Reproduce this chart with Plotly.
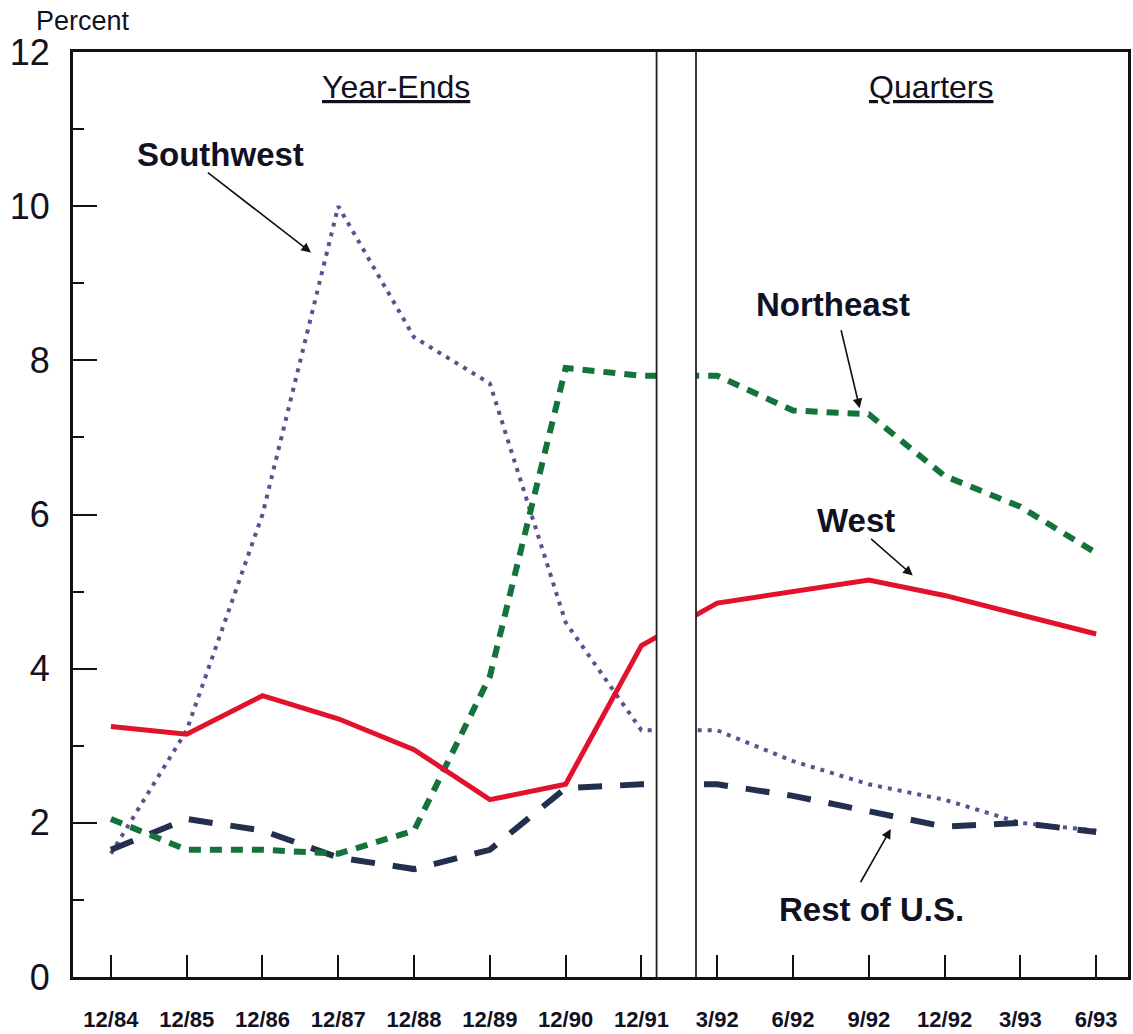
import plotly.graph_objects as go

categories = ["12/84", "12/85", "12/86", "12/87", "12/88", "12/89", "12/90", "12/91",
              "3/92", "6/92", "9/92", "12/92", "3/93", "6/93"]
southwest = [1.6, 3.2, 6.0, 10.0, 8.3, 7.7, 4.6, 3.2, 3.2, 2.8, 2.5, 2.3, 2.0, 1.9]
northeast = [2.05, 1.65, 1.65, 1.6, 1.9, 3.9, 7.9, 7.8, 7.8, 7.35, 7.3, 6.5, 6.1, 5.5]
west = [3.25, 3.15, 3.65, 3.35, 2.95, 2.3, 2.5, 4.3, 4.85, 5.0, 5.15, 4.95, 4.7, 4.45]
rest_us = [1.65, 2.05, 1.9, 1.55, 1.4, 1.65, 2.45, 2.5, 2.5, 2.35, 2.15, 1.95, 2.0, 1.88]
y_ticks = [0, 2, 4, 6, 8, 10, 12]

xs = list(range(len(categories)))
FONT = "Liberation Sans, Arial, Helvetica, sans-serif"
TXT = "#111122"

fig = go.Figure()
fig.add_trace(go.Scatter(x=xs, y=southwest, mode="lines", name="Southwest",
                         line=dict(color="#5e4e92", width=4, dash="4px,6px")))
fig.add_trace(go.Scatter(x=xs, y=rest_us, mode="lines", name="Rest of U.S.",
                         line=dict(color="#22304d", width=6, dash="24px,18px")))
fig.add_trace(go.Scatter(x=xs, y=northeast, mode="lines", name="Northeast",
                         line=dict(color="#13733a", width=6, dash="12px,9px")))
fig.add_trace(go.Scatter(x=xs, y=west, mode="lines", name="West",
                         line=dict(color="#e3122c", width=5)))

# gap panel between year-ends and quarters
fig.add_shape(type="rect", xref="x", yref="y", x0=7.2, x1=7.72, y0=0.04, y1=11.96,
              fillcolor="white", line=dict(width=0), layer="above")
for xv in (7.2, 7.72):
    fig.add_shape(type="line", xref="x", yref="y", x0=xv, x1=xv, y0=0, y1=12,
                  line=dict(color="#222222", width=1.8), layer="above")

ann = []
def label(text, x, y, size=33, bold=True):
    t = f"<b>{text}</b>" if bold else text
    ann.append(dict(x=x, y=y, xref="x", yref="y", text=t, showarrow=False,
                    font=dict(family=FONT, size=size, color=TXT)))

def arrow(hx, hy, tx, ty):
    ann.append(dict(x=hx, y=hy, xref="x", yref="y", ax=tx, ay=ty, axref="x", ayref="y",
                    text="", showarrow=True, arrowhead=2, arrowsize=1.2, arrowwidth=1.6,
                    arrowcolor="#111111"))

label("Southwest", 1.45, 10.67)
arrow(2.64, 9.40, 1.26, 10.45)
label("Northeast", 9.53, 8.73)
arrow(9.88, 7.38, 9.63, 8.41)
label("West", 9.83, 5.92)
arrow(10.58, 5.21, 10.01, 5.70)
label("Rest of U.S.", 10.03, 0.88)
arrow(10.29, 1.92, 9.88, 1.21)
label("<u>Year-Ends</u>", 3.76, 11.55, size=32, bold=False)
label("<u>Quarters</u>", 10.82, 11.55, size=32, bold=False)

ann.append(dict(x=0.0095, y=1.033, xref="paper", yref="paper", text="Percent",
                xanchor="center", yanchor="middle",
                showarrow=False, font=dict(family=FONT, size=27, color=TXT)))

fig.update_layout(
    width=1133, height=1034,
    margin=dict(l=73, r=2, t=52, b=53),
    paper_bgcolor="white", plot_bgcolor="white",
    showlegend=False,
    annotations=ann,
    font=dict(family=FONT, color=TXT),
)
fig.update_xaxes(range=[-0.5, 13.42], tickmode="array", tickvals=xs, ticktext=categories,
                 ticks="inside", ticklen=22, tickwidth=1.5, tickcolor="#111111",
                 showline=True, linecolor="#111111", linewidth=3, mirror=True,
                 showgrid=False, zeroline=False,
                 tickfont=dict(family=FONT, size=22, color=TXT, weight="bold"),
                 ticklabelstandoff=21)
fig.update_yaxes(range=[0, 12], tickmode="array", tickvals=y_ticks,
                 ticktext=[str(v) for v in y_ticks],
                 ticks="inside", ticklen=24, tickwidth=1.5, tickcolor="#111111",
                 minor=dict(dtick=1, ticks="inside", ticklen=11, tickwidth=1.5, tickcolor="#111111"),
                 showline=True, linecolor="#111111", linewidth=3, mirror=True,
                 showgrid=False, zeroline=False,
                 tickfont=dict(family=FONT, size=36, color=TXT),
                 ticklabelstandoff=13)

fig.write_html("out.html", config={"displayModeBar": False},
               post_script="document.body.style.margin='0';document.body.style.overflow='hidden';")
